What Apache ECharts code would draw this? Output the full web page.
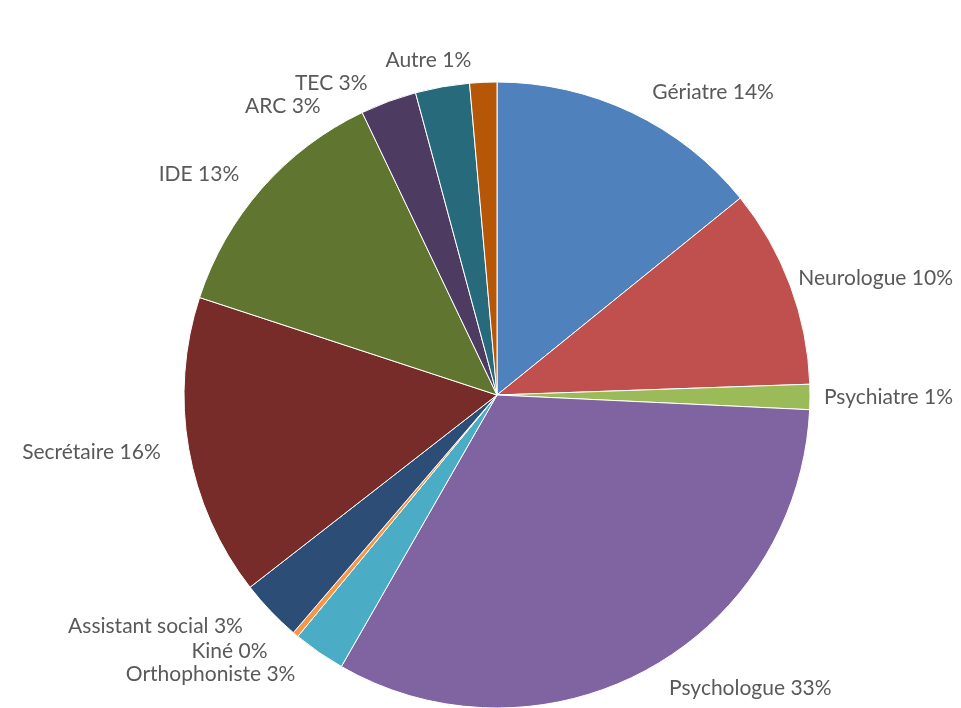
<!DOCTYPE html>
<html>
<head>
<meta charset="utf-8">
<script src="https://cdn.jsdelivr.net/npm/echarts@6/dist/echarts.min.js"></script>
<style>
  html, body { margin: 0; padding: 0; background: #fff; }
  #chart { width: 961px; height: 708px; }
</style>
</head>
<body>
<div id="chart"></div>
<script>
// professions, clockwise from the top
const categories = ['Gériatre', 'Neurologue', 'Psychiatre', 'Psychologue', 'Orthophoniste', 'Kiné',
  'Assistant social', 'Secrétaire', 'IDE', 'ARC', 'TEC', 'Autre'];
const values = [14.2, 10.3, 1.3, 32.6, 2.7, 0.3, 3.2, 15.6, 12.9, 2.9, 2.8, 1.4];
const colors = ['#4F81BD', '#C0504D', '#9BBB59', '#8064A2', '#4BACC6', '#F79646',
  '#2C4D75', '#772C2A', '#5F7530', '#4D3B62', '#276A7C', '#B65708'];

const total = values.reduce((a, b) => a + b, 0);

let chart = echarts.init(document.getElementById('chart'));
let option = {
  animation: false,
  color: colors,
  series: [{
    type: 'pie',
    center: [497, 395],
    radius: 313,
    startAngle: 90,
    clockwise: true,
    avoidLabelOverlap: true,
    itemStyle: { borderColor: '#fff', borderWidth: 1 },
    label: {
      show: true,
      position: 'outside',
      overflow: 'none',
      fontFamily: 'Lato',
      fontSize: 21,
      color: '#595959',
      formatter: p => p.name + ' ' + Math.round(p.value / total * 100) + '%'
    },
    labelLine: { show: false, length: 22, length2: 6 },
    // keep labels on the right inside the canvas
    labelLayout: function (p) {
      const W = chart.getWidth();
      const r = p.labelRect;
      if (r.x + r.width > W - 8) {
        return { x: W - 8 - r.width, y: r.y + r.height / 2, align: 'left', verticalAlign: 'middle' };
      }
      return {};
    },
    data: categories.map((c, i) => ({ name: c, value: values[i] }))
  }]
};
chart.setOption(option);
</script>
</body>
</html>
